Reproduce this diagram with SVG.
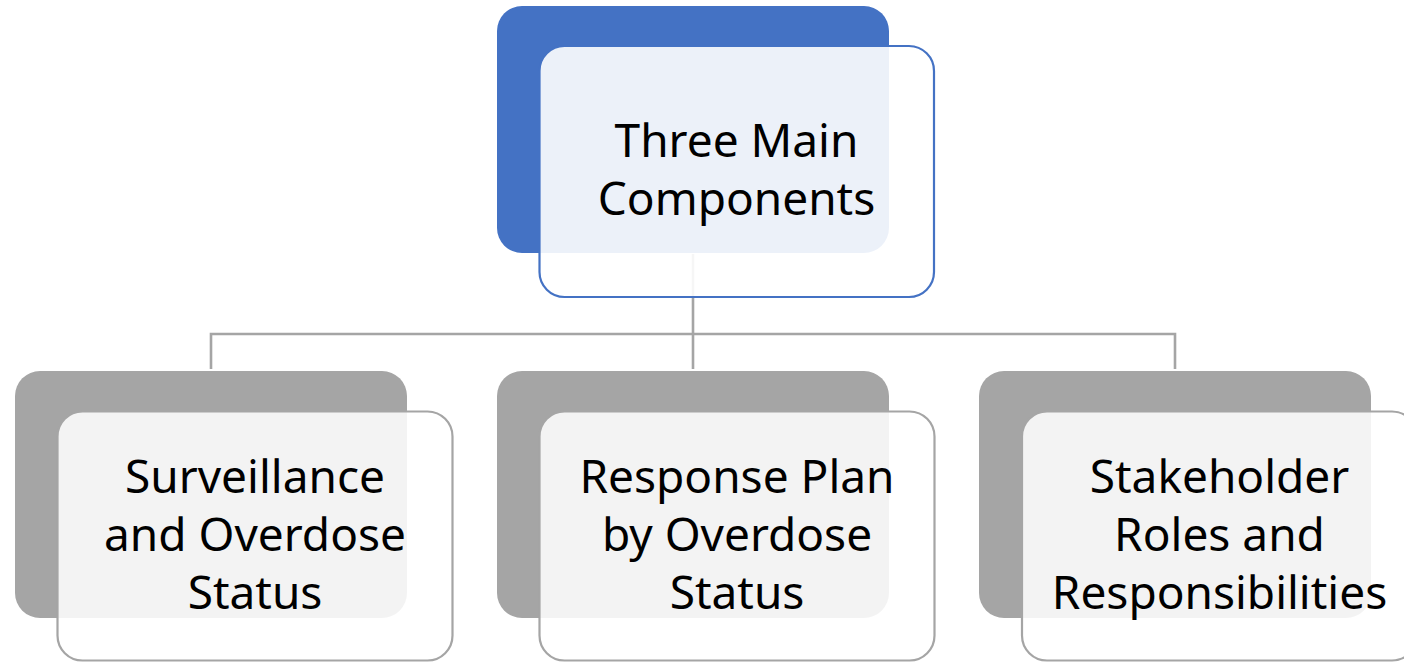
<svg xmlns="http://www.w3.org/2000/svg" width="1404" height="662" viewBox="0 0 1404 662">
<style>
.bg{fill:#ffffff}
.back-top{fill:#4472C4}
.front-top{fill:#ffffff;fill-opacity:0.9;stroke:#4472C4;stroke-width:2.2}
.back{fill:#A5A5A5}
.front{fill:#ffffff;fill-opacity:0.87;stroke:#A5A5A5;stroke-width:2.2}
.conn{fill:none;stroke:#A5A5A5;stroke-width:2.6}
.lbl{font-family:"Noto Sans","Open Sans",sans-serif;font-size:46px;fill:#000000;text-anchor:middle}
</style>
<rect class="bg" x="0" y="0" width="1404" height="662"/>
<g id="connectors">
<path class="conn" d="M693 254 V369 M211 369 V334 H1175 V369"/>
</g>
<g id="node-main">
<rect class="back-top" x="497" y="6" width="392" height="247" rx="25"/>
<rect class="front-top" x="539.5" y="46" width="394.5" height="251" rx="25"/>
<text class="lbl" x="736.5" y="157">Three Main</text>
<text class="lbl" x="736.5" y="215">Components</text>
</g>
<g id="node-surveillance">
<rect class="back" x="15" y="371" width="392" height="247" rx="25"/>
<rect class="front" x="57.5" y="411.5" width="395" height="249" rx="25"/>
<text class="lbl" x="255" y="493">Surveillance</text>
<text class="lbl" x="255" y="551">and Overdose</text>
<text class="lbl" x="255" y="609">Status</text>
</g>
<g id="node-response">
<rect class="back" x="497" y="371" width="392" height="247" rx="25"/>
<rect class="front" x="539.5" y="411.5" width="395" height="249" rx="25"/>
<text class="lbl" x="737" y="493">Response Plan</text>
<text class="lbl" x="737" y="551">by Overdose</text>
<text class="lbl" x="737" y="609">Status</text>
</g>
<g id="node-stakeholder">
<rect class="back" x="979" y="371" width="392" height="247" rx="25"/>
<rect class="front" x="1022" y="411.5" width="395" height="249" rx="25"/>
<text class="lbl" x="1219.5" y="493">Stakeholder</text>
<text class="lbl" x="1219.5" y="551">Roles and</text>
<text class="lbl" x="1219.5" y="609">Responsibilities</text>
</g>
</svg>
